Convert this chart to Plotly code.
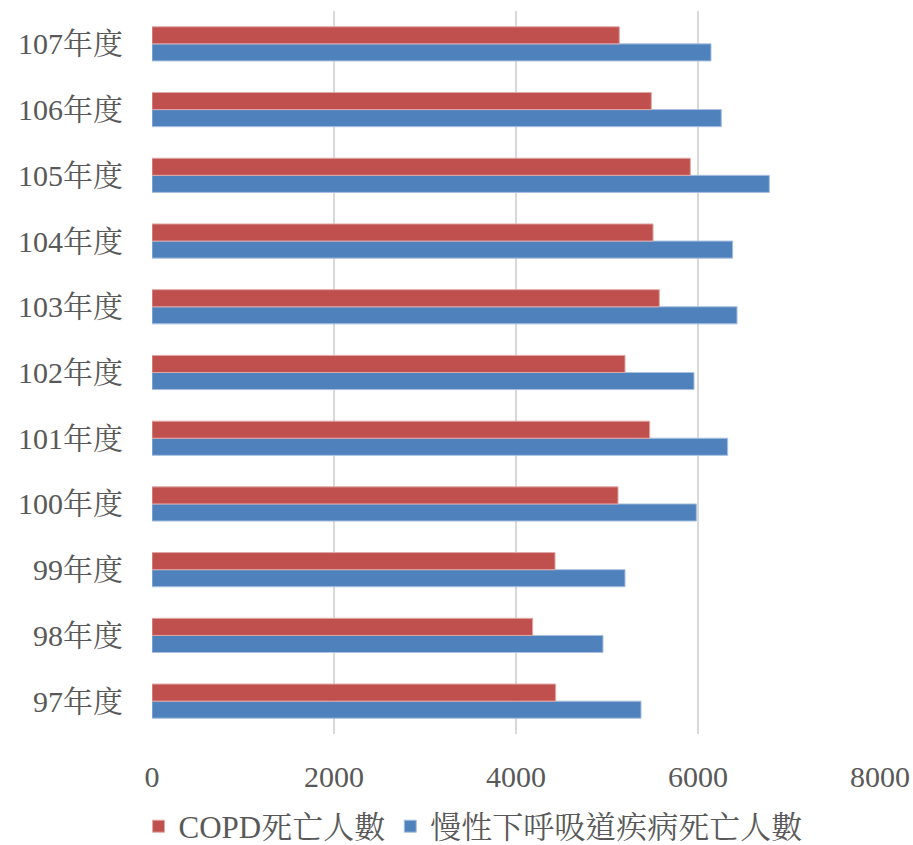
import plotly.graph_objects as go

# Fiscal years (ROC calendar), bottom to top
years = ["97年度", "98年度", "99年度", "100年度", "101年度", "102年度",
         "103年度", "104年度", "105年度", "106年度", "107年度"]

# Deaths from COPD
copd_deaths = [4436, 4183, 4429, 5121, 5469, 5198, 5575, 5506, 5916, 5487, 5135]

# Deaths from chronic lower respiratory diseases
clrd_deaths = [5374, 4956, 5198, 5982, 6326, 5956, 6429, 6381, 6784, 6256, 6143]

x_ticks = [0, 2000, 4000, 6000, 8000]

font_family = "Liberation Serif, Noto Serif CJK TC, Noto Sans CJK TC, serif"
text_color = "#595959"

fig = go.Figure()
fig.add_trace(go.Bar(
    y=years, x=clrd_deaths, orientation="h", name="慢性下呼吸道疾病死亡人數",
    marker=dict(color="#4F81BD", line=dict(color="#A9C0DE", width=1)),
))
fig.add_trace(go.Bar(
    y=years, x=copd_deaths, orientation="h", name="COPD死亡人數",
    marker=dict(color="#C0504D", line=dict(color="#E0A8A6", width=1)),
))

fig.update_layout(
    width=913, height=845,
    margin=dict(l=152, r=33, t=11, b=111, autoexpand=False),
    barmode="group", bargap=0.48, bargroupgap=0,
    plot_bgcolor="white", paper_bgcolor="white",
    font=dict(family=font_family, size=30, color=text_color),
    xaxis=dict(range=[0, 8000], tickvals=x_ticks, showgrid=True,
               gridcolor="#D9D9D9", gridwidth=2, zeroline=False,
               showline=False, ticks="", ticklabelstandoff=22,
               tickfont=dict(size=30, color=text_color)),
    yaxis=dict(categoryorder="array", categoryarray=years, showgrid=False,
               showline=False, ticks="", ticklabelstandoff=28,
               tickfont=dict(size=30, color=text_color)),
    legend=dict(orientation="h", x=0.441, xanchor="center", y=-0.128,
                yanchor="middle", traceorder="reversed",
                font=dict(size=31, color=text_color),
                itemwidth=30, tracegroupgap=0),
    showlegend=True,
)

fig.write_html("out.html")
